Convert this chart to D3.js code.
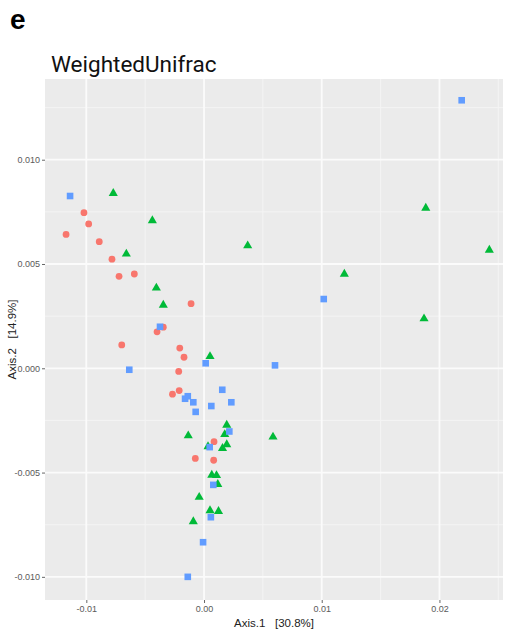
<!DOCTYPE html>
<html>
<head>
<meta charset="utf-8">
<script src="https://cdn.jsdelivr.net/npm/d3@7"></script>
<style>
  body { margin: 0; background: #fff; }
  svg { display: block; }
</style>
</head>
<body>
<div id="chart"></div>
<script>
// PCoA coordinates, [Axis.1, Axis.2]
const circlePoints = [
  [-0.01020, 0.00746], [-0.00980, 0.00692], [-0.01172, 0.00642], [-0.00890, 0.00607],
  [-0.00782, 0.00523], [-0.00722, 0.00441], [-0.00592, 0.00452], [-0.00110, 0.00310],
  [-0.00346, 0.00197], [-0.00399, 0.00175], [-0.00699, 0.00112], [-0.00206, 0.00097],
  [-0.00170, 0.00053], [-0.00215, -0.00015], [-0.00211, -0.00107], [-0.00268, -0.00124],
  [0.00085, -0.00352], [-0.00074, -0.00432], [0.00082, -0.00441]
];
const squarePoints = [
  [-0.01138, 0.00826], [-0.00374, 0.00199], [-0.00635, -0.00007], [0.00014, 0.00024],
  [0.00603, 0.00014], [0.00155, -0.00103], [-0.00138, -0.00134], [-0.00161, -0.00146],
  [-0.00091, -0.00163], [0.00232, -0.00163], [0.00062, -0.00181], [-0.00071, -0.00209],
  [0.00215, -0.00303], [0.00048, -0.00378], [0.00079, -0.00559], [0.00058, -0.00714],
  [-0.00008, -0.00834], [-0.00138, -0.01000], [0.02189, 0.01285], [0.01017, 0.00332]
];
const trianglePoints = [
  [-0.00771, 0.00839], [-0.00439, 0.00708], [-0.00660, 0.00548], [0.00371, 0.00588],
  [-0.00405, 0.00385], [-0.00346, 0.00303], [0.00051, 0.00057], [0.00193, -0.00272],
  [0.00176, -0.00317], [-0.00134, -0.00323], [0.00586, -0.00329], [0.00193, -0.00366],
  [0.00034, -0.00375], [0.00157, -0.00384], [0.00066, -0.00512], [0.00106, -0.00514],
  [0.00117, -0.00556], [-0.00041, -0.00618], [0.00051, -0.00682], [0.00123, -0.00686],
  [-0.00091, -0.00735], [0.01884, 0.00768], [0.02424, 0.00567], [0.01192, 0.00452],
  [0.01869, 0.00238]
];

const xTicks = [-0.01, 0, 0.01, 0.02];
const xTickLabels = ['-0.01', '0.00', '0.01', '0.02'];
const yTicks = [-0.010, -0.005, 0, 0.005, 0.010];
const yTickLabels = ['-0.010', '-0.005', '0.000', '0.005', '0.010'];
const xMinor = [-0.005, 0.005, 0.015, 0.025];
const yMinor = [-0.0075, -0.0025, 0.0025, 0.0075, 0.0125];

const width = 506;
const height = 631;
const panel = {left: 45, right: 503, top: 79, bottom: 600};

const svg = d3.select('#chart').append('svg')
  .attr('width', width)
  .attr('height', height);

const xScale = d3.scaleLinear().domain([-0.01351, 0.0254]).range([panel.left, panel.right]);
const yScale = d3.scaleLinear().domain([-0.01111, 0.01387]).range([panel.bottom, panel.top]);

// panel background
svg.append('rect')
  .attr('x', panel.left).attr('y', panel.top)
  .attr('width', panel.right - panel.left)
  .attr('height', panel.bottom - panel.top)
  .attr('fill', '#ebebeb');

// grid lines, minor then major
const grid = svg.append('g');
grid.selectAll('line.xminor').data(xMinor).enter().append('line')
  .attr('x1', function(d) { return xScale(d); }).attr('x2', function(d) { return xScale(d); })
  .attr('y1', panel.top).attr('y2', panel.bottom)
  .attr('stroke', '#f4f4f4').attr('stroke-width', 1);
grid.selectAll('line.yminor').data(yMinor).enter().append('line')
  .attr('y1', function(d) { return yScale(d); }).attr('y2', function(d) { return yScale(d); })
  .attr('x1', panel.left).attr('x2', panel.right)
  .attr('stroke', '#f4f4f4').attr('stroke-width', 1);
grid.selectAll('line.xmajor').data(xTicks).enter().append('line')
  .attr('x1', function(d) { return xScale(d); }).attr('x2', function(d) { return xScale(d); })
  .attr('y1', panel.top).attr('y2', panel.bottom)
  .attr('stroke', '#fbfbfb').attr('stroke-width', 1.8);
grid.selectAll('line.ymajor').data(yTicks).enter().append('line')
  .attr('y1', function(d) { return yScale(d); }).attr('y2', function(d) { return yScale(d); })
  .attr('x1', panel.left).attr('x2', panel.right)
  .attr('stroke', '#fbfbfb').attr('stroke-width', 1.8);

// axes
const axisBottom = d3.axisBottom(xScale).tickValues(xTicks).tickSize(3).tickPadding(3)
  .tickFormat(function(d, i) { return xTickLabels[i]; });
const axisLeft = d3.axisLeft(yScale).tickValues(yTicks).tickSize(3).tickPadding(2)
  .tickFormat(function(d, i) { return yTickLabels[i]; });

const gx = svg.append('g').attr('transform', 'translate(0,' + panel.bottom + ')').call(axisBottom);
const gy = svg.append('g').attr('transform', 'translate(' + panel.left + ',0)').call(axisLeft);
[gx, gy].forEach(function(g) {
  g.select('.domain').remove();
  g.selectAll('line').attr('stroke', '#666');
  g.selectAll('text').attr('fill', '#5a5a5a')
    .attr('font-family', '"Liberation Sans", Arial, sans-serif').attr('font-size', 9);
});

// points
const pts = svg.append('g');
const color = {circle: '#f8766d', triangle: '#00ba38', square: '#619cff'};

pts.selectAll('circle').data(circlePoints).enter().append('circle')
  .attr('cx', function(d) { return xScale(d[0]); })
  .attr('cy', function(d) { return yScale(d[1]); })
  .attr('r', 3.4)
  .attr('fill', color.circle);

const triangle = d3.symbol().type(d3.symbolTriangle).size(36);
pts.selectAll('path.tri').data(trianglePoints).enter().append('path')
  .attr('class', 'tri')
  .attr('d', triangle)
  .attr('transform', function(d) { return 'translate(' + xScale(d[0]) + ',' + yScale(d[1]) + ')'; })
  .attr('fill', color.triangle);

const sq = 6.6;
pts.selectAll('rect.sq').data(squarePoints).enter().append('rect')
  .attr('class', 'sq')
  .attr('x', function(d) { return xScale(d[0]) - sq / 2; })
  .attr('y', function(d) { return yScale(d[1]) - sq / 2; })
  .attr('width', sq).attr('height', sq)
  .attr('fill', color.square);

// titles
svg.append('text')
  .attr('x', 10).attr('y', 29)
  .attr('font-family', '"Liberation Sans", Arial, sans-serif')
  .attr('font-weight', 'bold').attr('font-size', 28)
  .attr('fill', '#000')
  .text('e');

svg.append('text')
  .attr('x', 51).attr('y', 72)
  .attr('font-family', 'Roboto, sans-serif')
  .attr('font-size', 22.5)
  .attr('fill', '#111')
  .text('WeightedUnifrac');

svg.append('text')
  .attr('x', (panel.left + panel.right) / 2).attr('y', 627)
  .attr('text-anchor', 'middle')
  .attr('font-family', '"Liberation Sans", Arial, sans-serif')
  .attr('font-size', 11.5)
  .attr('fill', '#222')
  .attr('xml:space', 'preserve')
  .text('Axis.1   [30.8%]');

svg.append('text')
  .attr('transform', 'translate(16,' + ((panel.top + panel.bottom) / 2) + ') rotate(-90)')
  .attr('text-anchor', 'middle')
  .attr('font-family', '"Liberation Sans", Arial, sans-serif')
  .attr('font-size', 11.5)
  .attr('fill', '#222')
  .attr('xml:space', 'preserve')
  .text('Axis.2   [14.9%]');
</script>
</body>
</html>
